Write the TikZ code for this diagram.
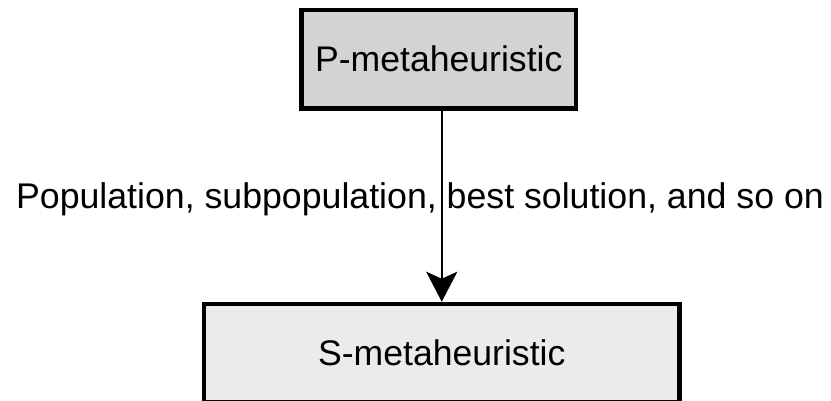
\documentclass[tikz,border=0pt]{standalone}
\usepackage{fontspec}
\setmainfont{Liberation Sans}
\usetikzlibrary{arrows.meta}
\definecolor{pfill}{HTML}{D3D3D3}
\definecolor{sfill}{HTML}{EBEBEB}
\tikzset{
  algbox/.style={draw=black, line width=4.5pt, inner sep=0pt,
    font=\fontsize{35.6}{40}\selectfont},
  flowarrow/.style={line width=2.5pt,
    -{Stealth[length=30pt, width=31pt, inset=7pt]}},
  flowlabel/.style={inner sep=0pt, font=\fontsize{35.7}{40}\selectfont}
}
\begin{document}
\begin{tikzpicture}[x=1pt, y=1pt]
  \useasboundingbox (0,0) rectangle (831,-401);
  % population-based method
  \node[algbox, fill=pfill, minimum width=274.5pt, minimum height=98.5pt]
    (pmeta) at (438.75,-59.25) {P-metaheuristic};
  % single-solution method
  \node[algbox, fill=sfill, minimum width=475.5pt, minimum height=98pt]
    (smeta) at (441.75,-353) {S-metaheuristic};
  % what is passed between them
  \draw[flowarrow] (pmeta.south -| smeta.north) -- (smeta.north);
  \node[flowlabel, anchor=base] (passed) at (420,-209)
    {Population, subpopulation, best solution, and so on};
\end{tikzpicture}
\end{document}
